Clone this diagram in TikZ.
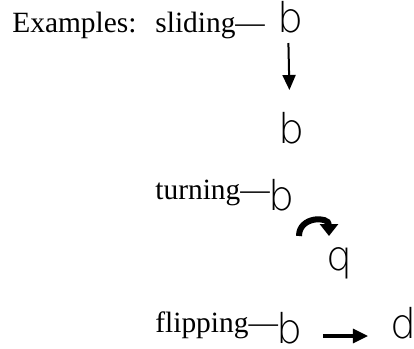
\documentclass[tikz,border=0pt]{standalone}
\usepackage{fontspec}
\setmainfont{Liberation Serif}
\newfontfamily\glyphfont{DejaVu Sans ExtraLight}
\usetikzlibrary{arrows.meta,positioning,calc}

\begin{document}
\begin{tikzpicture}[
 x=0.5pt,y=-0.5pt,
 label/.style={inner sep=0pt,anchor=base west,font=\fontsize{14.7}{17}\selectfont},
 letter/.style={inner sep=0pt,anchor=base west,font=\glyphfont\fontsize{20.5}{22}\selectfont},
 thinarr/.style={-{Triangle[width=6.5pt,length=7.5pt]},line width=1pt},
 thickarr/.style={-{Triangle[width=7pt,length=7.5pt]},line width=1.6pt},
 turnarr/.style={-{Triangle[width=9pt,length=6pt]},line width=3pt}]
\useasboundingbox (0,0) rectangle (414,349);
% sliding
\node[label] (examples) at (12,32) {Examples:};
\node[label] (sliding) at (155,32) {sliding---};
\node[letter] (bslideA) at (277,32) {b};
\node[letter] (bslideB) at (278,143) {b};
\draw[thinarr] ($(bslideA.base)+(-2,11)$) -- ($(bslideB.base)+(-2,-53)$);
% turning
\node[label] (turning) at (155,199) {turning---};
\node[letter] (bturn) at (268,210) {b};
\node[letter] (qturn) at (326,270) {q};
\coordinate (turnL) at (299,236);
\coordinate (turnR) at (329,236);
\draw[turnarr] (turnL) to[out=90,in=90,looseness=1.7] (turnR);
% flipping
\node[label] (flipping) at (155,332) {flipping---};
\node[letter] (bflip) at (276,343) {b};
\node[letter] (dflip) at (390,338) {d};
\draw[thickarr] ($(bflip.base east)+(20,-7)$) -- ($(dflip.base west)+(-22,-2)$);
\end{tikzpicture}
\end{document}
